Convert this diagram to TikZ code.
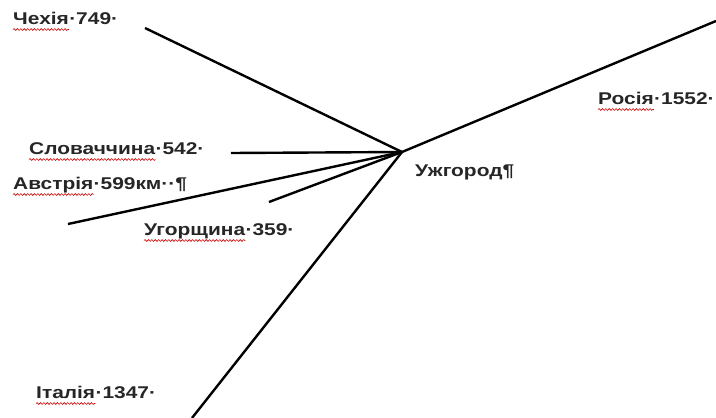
\documentclass[tikz,border=0pt]{standalone}
\usepackage{fontspec}
\setmainfont{Liberation Sans}
\newfontfamily\lblfont[FakeStretch=1.23]{Liberation Sans}
\usetikzlibrary{decorations.pathmorphing}
\begin{document}
\begin{tikzpicture}[x=1pt,y=-1pt,
  lbl/.style={font=\lblfont\fontsize{17}{20}\selectfont\bfseries,inner sep=0pt,anchor=base west,text=black!85},
  road/.style={line width=2.4pt,black},
  wavy/.style={red!80!black,line width=0.6pt,decorate,decoration={snake,amplitude=0.9pt,segment length=3.4pt}}]
\useasboundingbox (0,0) rectangle (716,418);
% hub and free ends
\coordinate (h) at (402,152);
\coordinate (cz) at (145,28);
\coordinate (ru) at (716,21);
\coordinate (sk) at (231,153);
\coordinate (at) at (68,224);
\coordinate (hu) at (269,202);
\coordinate (it) at (192,418);
% connectors
\draw[road] (cz) -- (h);
\draw[road] (h) -- (ru);
\draw[road] (sk) -- (h);
\draw[road] (at) -- (h);
\draw[road] (hu) -- (h);
\draw[road] (h) -- (it);
% labels
\node[lbl] (czw) at (13,24) {Чехія};
\node[lbl] (czn) at (czw.base east) {·749·};
\node[lbl] (ruw) at (598,104) {Росія};
\node[lbl] (run) at (ruw.base east) {·1552·};
\node[lbl] (skw) at (29,154) {Словаччина};
\node[lbl] (skn) at (skw.base east) {·542·};
\node[lbl] (atw) at (13,189) {Австрія};
\node[lbl] (atn) at (atw.base east) {·599км··¶};
\node[lbl] (huw) at (144,235) {Угорщина};
\node[lbl] (hun) at (huw.base east) {·359·};
\node[lbl] (uz) at (415,176) {Ужгород¶};
\node[lbl] (itw) at (36,398) {Італія};
\node[lbl] (itn) at (itw.base east) {·1347·};
% spell-check underlines
\foreach \w in {czw,ruw,skw,atw,huw,itw}
  \draw[wavy] ([yshift=-5.5pt]\w.base west) -- ([yshift=-5.5pt]\w.base east);
\end{tikzpicture}
\end{document}
